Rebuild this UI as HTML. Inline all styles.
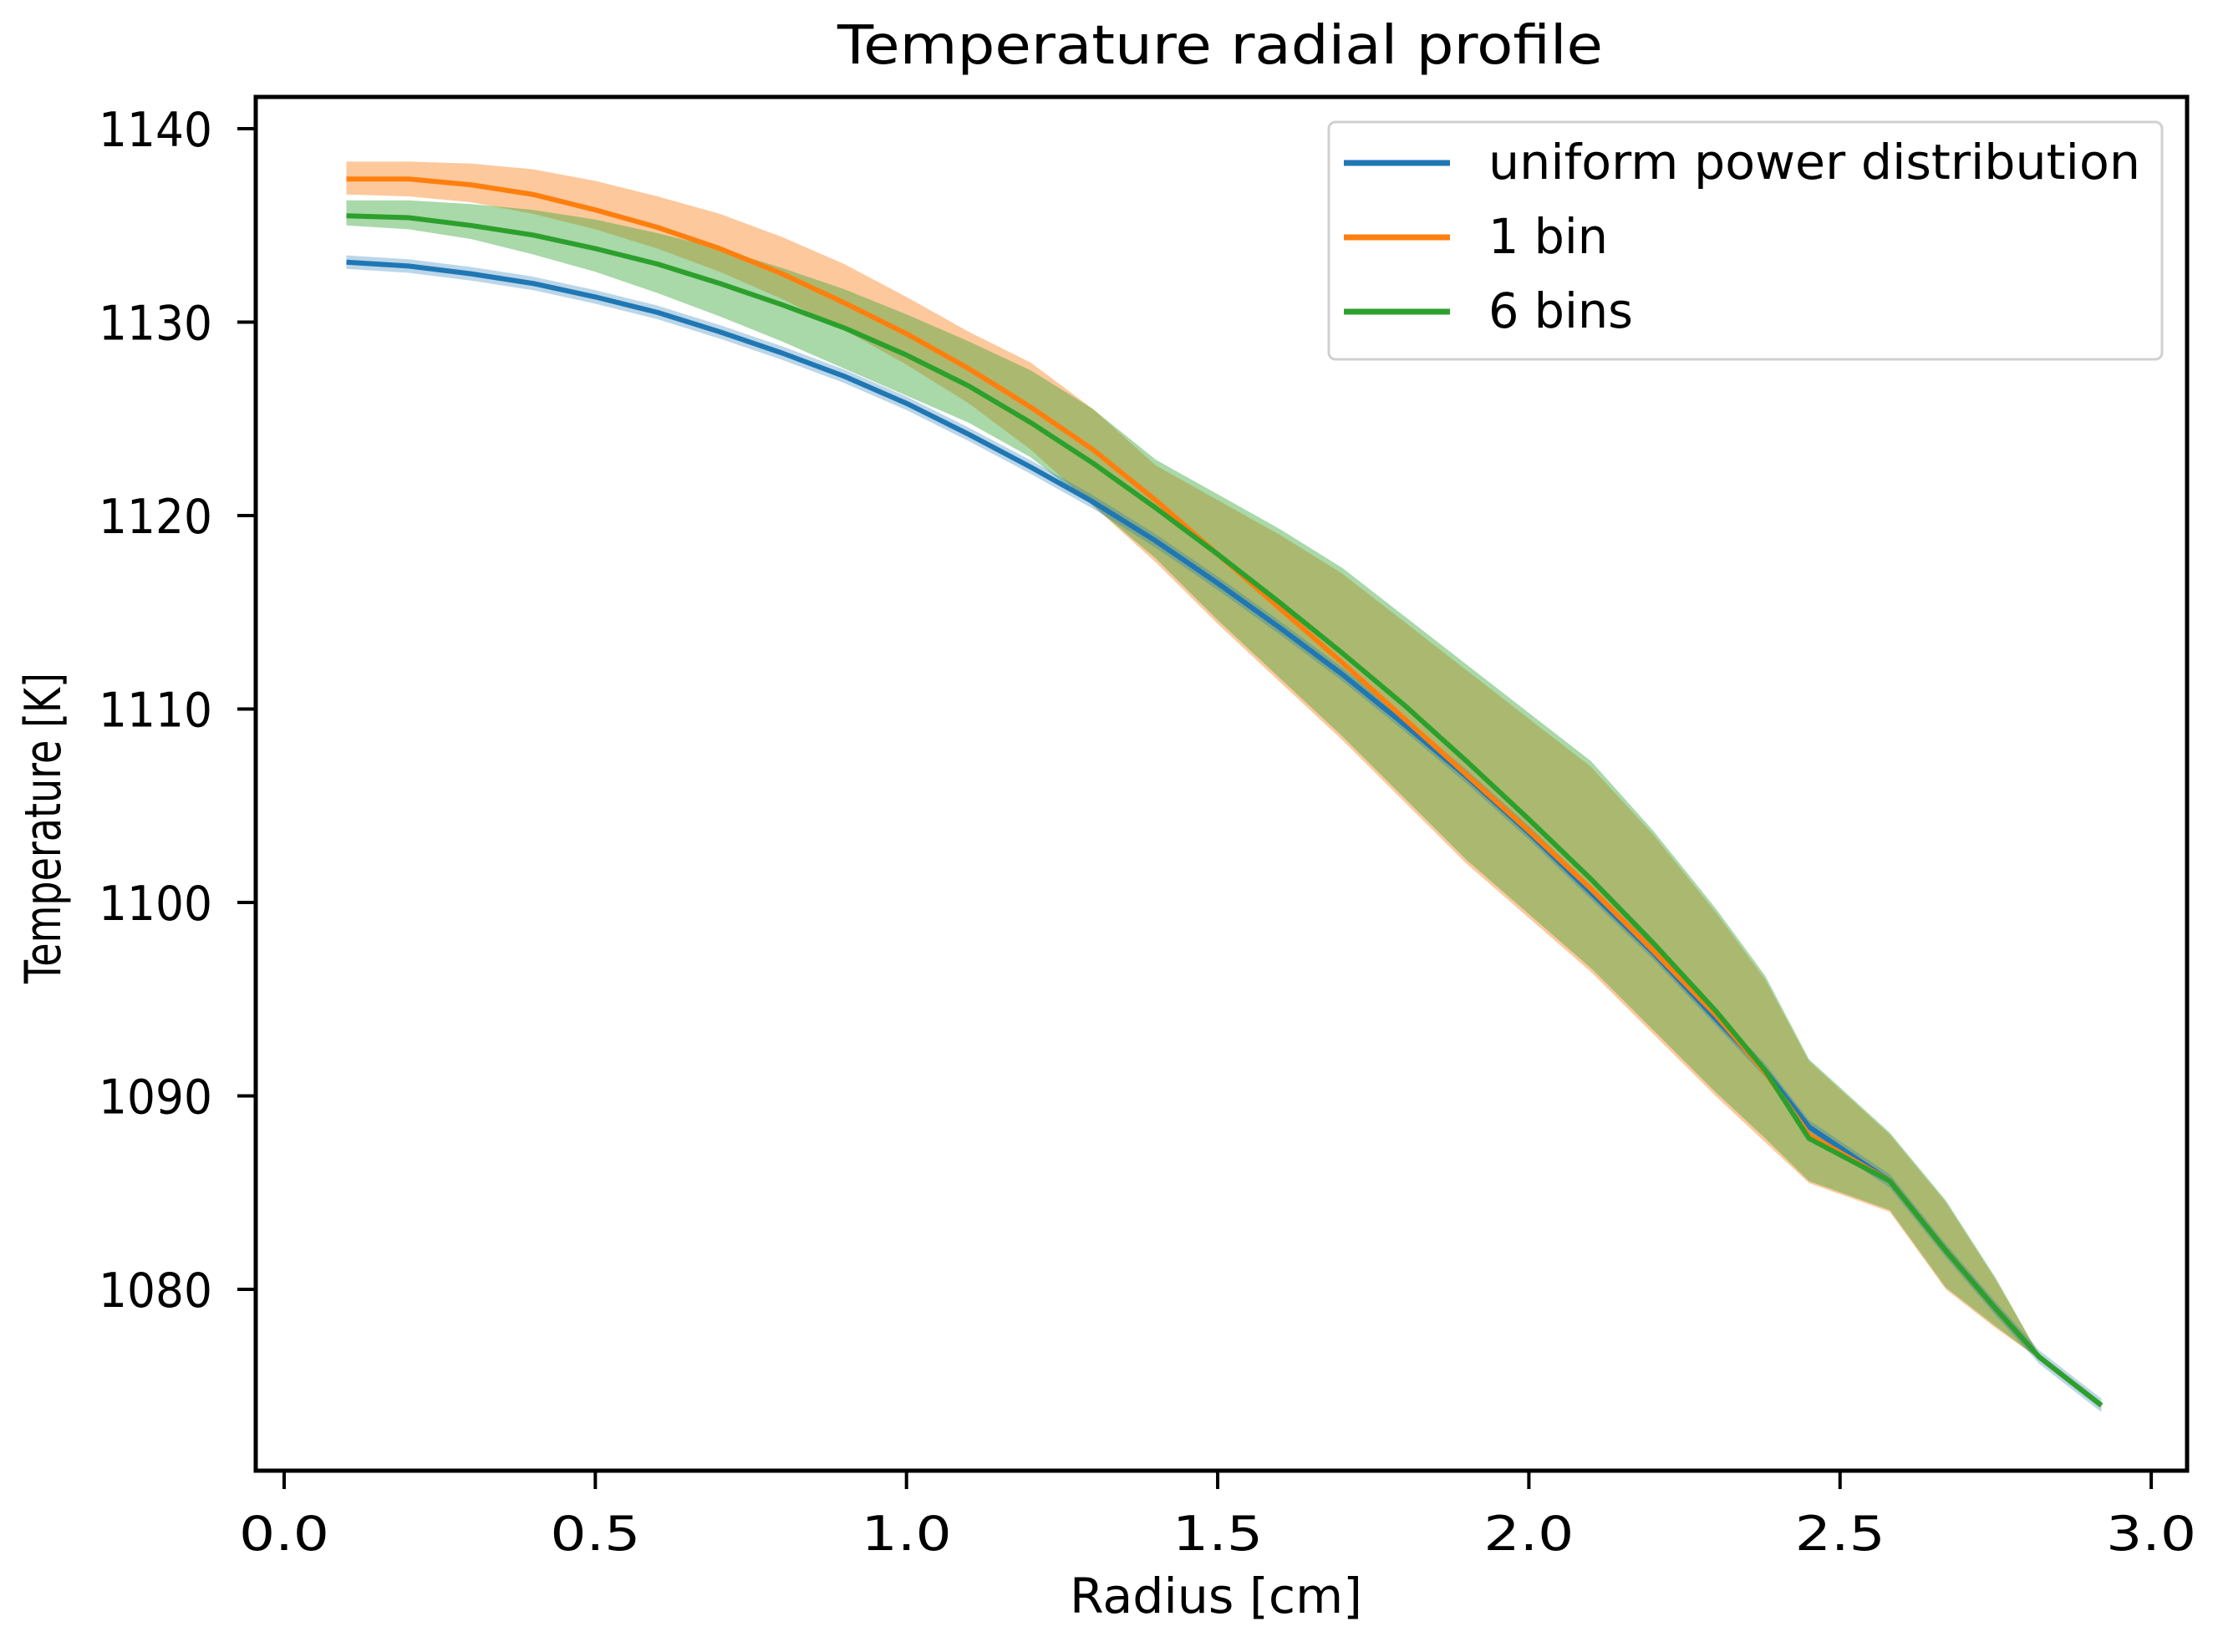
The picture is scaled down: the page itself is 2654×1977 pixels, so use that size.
<!DOCTYPE html>
<html><head><meta charset="utf-8"><style>
html,body{margin:0;padding:0;background:#fff;}
svg{display:block;}
text{font-family:"DejaVu Sans","Liberation Sans",sans-serif;fill:#000;}
</style></head><body>
<svg id="chart" width="2654" height="1977" viewBox="0 0 2654 1977" xmlns="http://www.w3.org/2000/svg">
<defs><clipPath id="plotclip"><rect x="306" y="116" width="2311" height="1644"/></clipPath></defs>
<text x="1460" y="76" font-size="64" text-anchor="middle" textLength="916" lengthAdjust="spacingAndGlyphs">Temperature radial profile</text>
<text x="1455" y="1930" font-size="58" text-anchor="middle" textLength="350" lengthAdjust="spacingAndGlyphs">Radius [cm]</text>
<text transform="translate(72,991) rotate(-90)" font-size="60" text-anchor="middle" textLength="372" lengthAdjust="spacingAndGlyphs">Temperature [K]</text>
<g id="bands" clip-path="url(#plotclip)"></g>
<g id="lines" clip-path="url(#plotclip)"></g>
<g id="axes"></g>
<g>
<rect x="1590" y="146" width="997" height="284" rx="8" fill="#fff" fill-opacity="0.8" stroke="#d0d0d0" stroke-width="3"/>
<line x1="1608" y1="195" x2="1735" y2="195" stroke="#1f77b4" stroke-width="7"/>
<text x="1781" y="214" font-size="58" textLength="780" lengthAdjust="spacingAndGlyphs">uniform power distribution</text>
<line x1="1608" y1="284" x2="1735" y2="284" stroke="#ff7f0e" stroke-width="7"/>
<text x="1781" y="303" font-size="58" textLength="143" lengthAdjust="spacingAndGlyphs">1 bin</text>
<line x1="1608" y1="373" x2="1735" y2="373" stroke="#2ca02c" stroke-width="7"/>
<text x="1781" y="392" font-size="58" textLength="173" lengthAdjust="spacingAndGlyphs">6 bins</text>
</g>
</svg>
<script>
const radius = [0.1,0.2,0.3,0.4,0.5,0.6,0.7,0.8,0.9,1.0,1.1,1.2,1.3,1.4,1.5,1.6,1.7,1.8,1.9,2.0,2.1,2.2,2.3,2.38,2.45,2.58,2.67,2.75,2.82,2.92];
const uniformT = [1133.1,1132.9,1132.5,1132.0,1131.3,1130.5,1129.5,1128.4,1127.2,1125.8,1124.2,1122.5,1120.7,1118.7,1116.5,1114.2,1111.8,1109.2,1106.5,1103.6,1100.5,1097.4,1094.0,1091.3,1088.4,1085.6,1082.0,1079.0,1076.5,1074.0];
const oneBinT = [1137.4,1137.4,1137.1,1136.6,1135.8,1134.9,1133.8,1132.5,1131.0,1129.4,1127.6,1125.6,1123.4,1120.8,1118.0,1115.2,1112.4,1109.5,1106.6,1103.7,1100.7,1097.5,1094.2,1091.2,1088.0,1085.6,1082.0,1079.0,1076.5,1074.0];
const oneBinLo = [1136.6,1136.5,1136.2,1135.6,1134.8,1133.8,1132.6,1131.2,1129.6,1127.8,1125.8,1123.4,1120.5,1117.6,1114.4,1111.4,1108.4,1105.2,1102.0,1099.2,1096.4,1093.2,1090.0,1087.6,1085.5,1084.0,1080.0,1078.0,1076.4,1074.0];
const oneBinHi = [1138.3,1138.3,1138.2,1137.9,1137.3,1136.5,1135.6,1134.4,1133.0,1131.3,1129.5,1127.9,1125.5,1122.6,1120.8,1119.0,1117.0,1114.5,1112.0,1109.5,1107.0,1103.5,1099.5,1096.0,1091.8,1088.0,1084.5,1080.5,1076.6,1074.0];
const sixBinT = [1135.5,1135.4,1135.0,1134.5,1133.8,1133.0,1132.0,1130.9,1129.7,1128.3,1126.7,1124.8,1122.7,1120.4,1118.0,1115.5,1112.9,1110.2,1107.3,1104.3,1101.2,1097.9,1094.4,1091.3,1087.8,1085.6,1082.0,1079.0,1076.5,1074.0];
const sixBinLo = [1135.0,1134.8,1134.3,1133.5,1132.6,1131.5,1130.3,1129.0,1127.6,1126.2,1124.8,1123.0,1120.5,1117.8,1114.6,1111.6,1108.6,1105.4,1102.2,1099.4,1096.6,1093.4,1090.2,1087.8,1085.6,1084.1,1080.1,1078.1,1076.4,1074.0];
const sixBinHi = [1136.3,1136.3,1136.1,1135.8,1135.3,1134.6,1133.8,1132.8,1131.7,1130.4,1129.0,1127.5,1125.5,1122.9,1121.1,1119.3,1117.3,1114.8,1112.3,1109.8,1107.3,1103.7,1099.7,1096.2,1091.9,1088.1,1084.6,1080.6,1076.6,1074.0];
const xTicks = [0.0,0.5,1.0,1.5,2.0,2.5,3.0];
const xTickLabels = ["0.0","0.5","1.0","1.5","2.0","2.5","3.0"];
const yTicks = [1080,1090,1100,1110,1120,1130,1140];
const yTickLabels = ["1080","1090","1100","1110","1120","1130","1140"];

const NS = "http://www.w3.org/2000/svg";
function xs(r){ return 340 + r*744.7; }
function ys(v){ return 154 + (1140 - v)*23.15; }
function mk(tag, attrs, parent){ const e=document.createElementNS(NS,tag); for(const k in attrs) e.setAttribute(k,attrs[k]); parent.appendChild(e); return e; }
function linePath(vals){ return vals.map((v,i)=>(i?'L':'M')+xs(radius[i]).toFixed(1)+','+ys(v).toFixed(1)).join(' '); }
function bandPath(lo,hi){
  let d = hi.map((v,i)=>(i?'L':'M')+xs(radius[i]).toFixed(1)+','+ys(v).toFixed(1)).join(' ');
  for(let i=lo.length-1;i>=0;i--) d += ' L'+xs(radius[i]).toFixed(1)+','+ys(lo[i]).toFixed(1);
  return d+' Z';
}
const bands = document.getElementById('bands');
const defs = document.querySelector('defs');
const cp = mk('clipPath',{id:'greenclip'},defs);
mk('path',{d:bandPath(sixBinLo,sixBinHi)},cp);

let e;
e = mk('path',{d:bandPath(oneBinLo,oneBinHi),fill:'#fdc89c'},bands);


e = mk('path',{d:bandPath(sixBinLo,sixBinHi),fill:'#a9d8a9'},bands);


e = mk('path',{d:bandPath(oneBinLo,oneBinHi),fill:'#aab96f','clip-path':'url(#greenclip)'},bands);


e = mk('path',{d:bandPath(uniformT.map(v=>v-0.35),uniformT.map(v=>v+0.35)),fill:'#1f77b4','fill-opacity':'0.3'},bands);



const lines = document.getElementById('lines');
e = mk('path',{d:linePath(uniformT),fill:'none',stroke:'#1f77b4','stroke-width':'6','stroke-linejoin':'round'},lines);


e = mk('path',{d:linePath(oneBinT),fill:'none',stroke:'#ff7f0e','stroke-width':'6','stroke-linejoin':'round'},lines);


e = mk('path',{d:linePath(sixBinT),fill:'none',stroke:'#2ca02c','stroke-width':'6','stroke-linejoin':'round'},lines);



const axes = document.getElementById('axes');
e = mk('rect',{x:306,y:116,width:2311,height:1644,fill:'none',stroke:'#000','stroke-width':'5'},axes);


xTicks.forEach((t,i)=>{
  const x = xs(t);
  const tk = mk('line',{x1:x,y1:1760,x2:x,y2:1782,stroke:'#000','stroke-width':'4'},axes);
  
  
  const lb = mk('text',{x:x,y:1855,'font-size':'57','text-anchor':'middle',textLength:'108',lengthAdjust:'spacingAndGlyphs'},axes);
  
  
  lb.textContent = xTickLabels[i];
});
yTicks.forEach((t,i)=>{
  const y = ys(t);
  const tk = mk('line',{x1:284,y1:y,x2:306,y2:y,stroke:'#000','stroke-width':'4'},axes);
  
  
  const lb = mk('text',{x:254,y:y+21,'font-size':'57','text-anchor':'end',textLength:'136',lengthAdjust:'spacingAndGlyphs'},axes);
  
  
  lb.textContent = yTickLabels[i];
});
</script>
</body></html>
